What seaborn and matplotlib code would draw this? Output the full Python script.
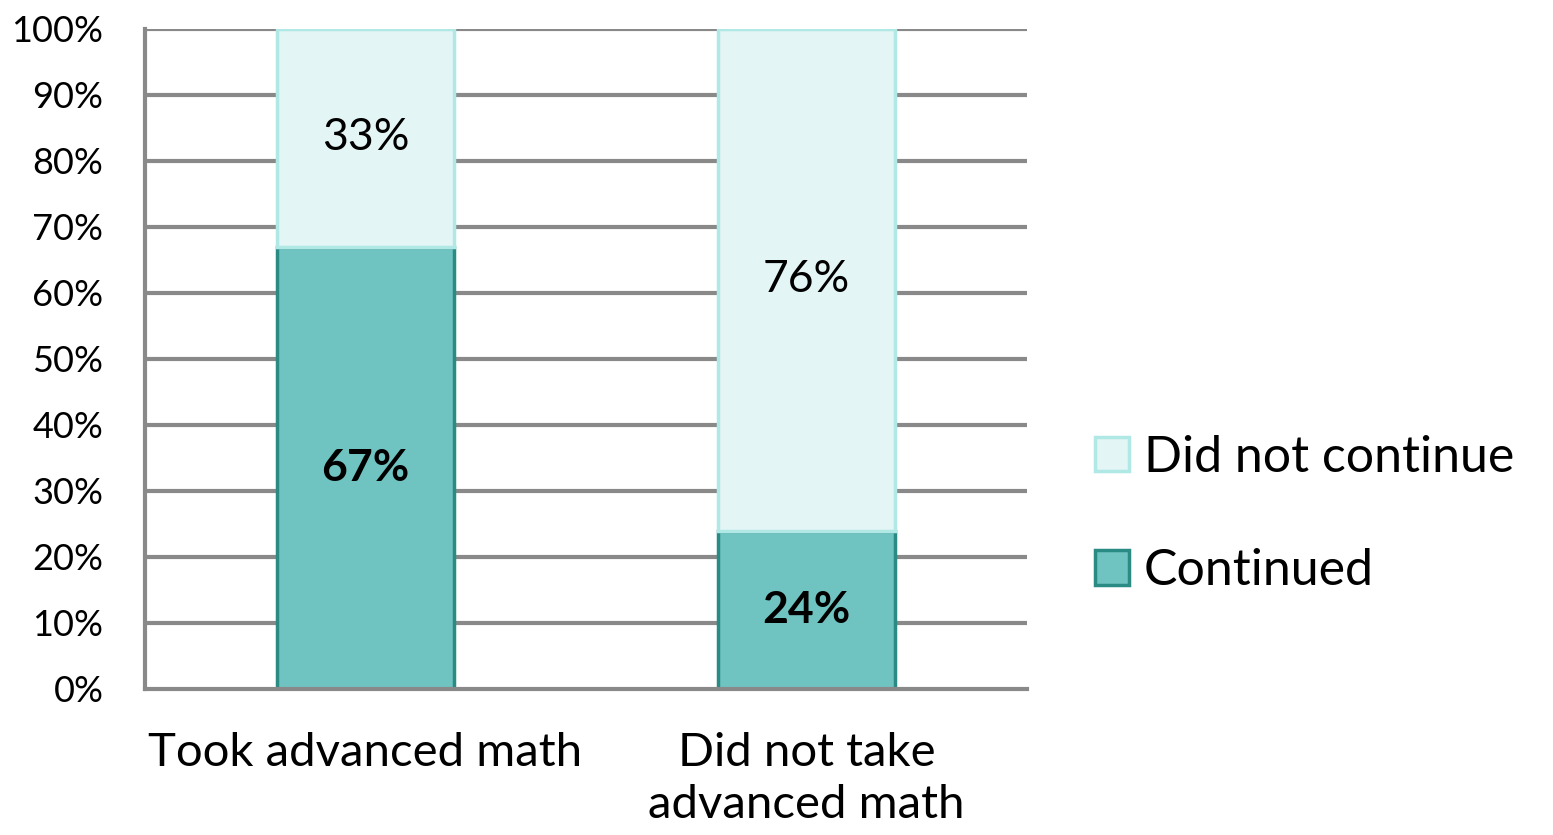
import matplotlib
matplotlib.use("Agg")
import matplotlib.pyplot as plt
import seaborn as sns
import pandas as pd
from matplotlib.patches import Patch
from matplotlib.ticker import FuncFormatter

categories = ["Took advanced math", "Did not take\nadvanced math"]
continued = [67, 24]
did_not_continue = [33, 76]

sns.set_theme(style="white")
plt.rcParams["font.family"] = ["Lato", "DejaVu Sans"]

df = pd.DataFrame({"group": categories, "continued": continued,
                   "did_not": did_not_continue})

fig = plt.figure(figsize=(15.53, 8.35), dpi=100)
ax = fig.add_axes([0.0934, 0.1749, 0.5679, 0.7904])

grid_c = "#898989"
for v in range(10, 101, 10):
    ax.axhline(v, color=grid_c, lw=3, zorder=0)

# stacked: continued at the bottom, did not continue on top of it
sns.barplot(data=df, x="group", y="continued", color="#6fc3c1", edgecolor="#2a8a84",
            linewidth=2.5, width=0.40, ax=ax, zorder=2, saturation=1)
sns.barplot(data=df, x="group", y="did_not", color="#e3f5f5", edgecolor="#b0e8e6",
            linewidth=2.5, width=0.40, ax=ax, zorder=3, saturation=1,
            bottom=continued)

for i, (c, d) in enumerate(zip(continued, did_not_continue)):
    ax.text(i, c / 2, f"{c}%", ha="center", va="center", fontsize=32,
            fontweight="bold", color="black", zorder=5)
    ax.text(i, c + d / 2, f"{d}%", ha="center", va="center", fontsize=32,
            color="black", zorder=5)

ax.set_xlim(-0.5, 1.5)
ax.set_ylim(0, 100)
ax.set_yticks(range(0, 101, 10))
ax.yaxis.set_major_formatter(FuncFormatter(lambda v, p: f"{int(v)}%"))
ax.set_xticks([0, 1])
ax.set_xticklabels(categories, fontsize=34, color="black", linespacing=1.3)
ax.set_xticks([-0.5, 0.5, 1.5], minor=True)
ax.tick_params(axis="x", which="major", length=0, pad=31)
ax.tick_params(axis="x", which="minor", length=11, width=3, color=grid_c, direction="out")
ax.tick_params(axis="y", length=11, width=3, color=grid_c, direction="out",
               labelsize=26, pad=19, labelcolor="black")
ax.set_xlabel("")
ax.set_ylabel("")

for s in ["top", "right"]:
    ax.spines[s].set_visible(False)
for s in ["left", "bottom"]:
    ax.spines[s].set_color(grid_c)
    ax.spines[s].set_linewidth(3)
    ax.spines[s].set_zorder(4)

handles = [Patch(facecolor="#e3f5f5", edgecolor="#b0e8e6", linewidth=2.5, label="Did not continue"),
           Patch(facecolor="#6fc3c1", edgecolor="#2a8a84", linewidth=2.5, label="Continued")]
fig.legend(handles=handles, loc="center left", bbox_to_anchor=(0.705, 0.384),
           frameon=False, fontsize=36, handlelength=0.68, handleheight=0.68,
           handletextpad=0.3, labelspacing=1.35, borderpad=0, borderaxespad=0,
           labelcolor="black")

fig.savefig("out.png", dpi=100)
